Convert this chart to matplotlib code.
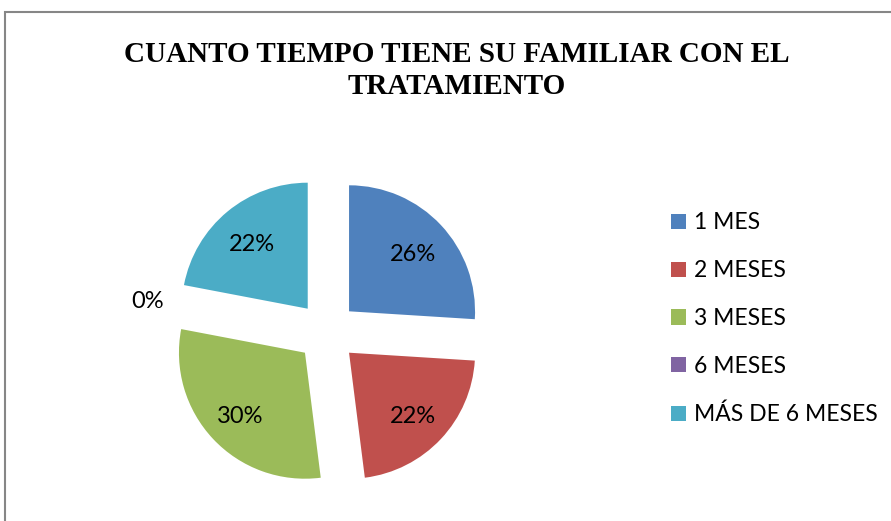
import matplotlib.pyplot as plt
from matplotlib.patches import Rectangle

categories = ["1 MES", "2 MESES", "3 MESES", "6 MESES", "MÁS DE 6 MESES"]
shares = [26, 22, 30, 0, 22]
colors = ["#4F81BD", "#C0504D", "#9BBB59", "#8064A2", "#4BACC6"]

W, H = 891, 521
fig = plt.figure(figsize=(W / 100, H / 100), dpi=100)

# outer chart frame (right and bottom edges fall outside the picture)
fig.patches.append(Rectangle((5 / W, -0.05), 1.1, (H - 12) / H + 0.05,
                             transform=fig.transFigure, fill=False,
                             edgecolor="#868686", linewidth=1.5))

# pie centre at ~(327, 332) px, radius ~126 px
r = 126
cx, cy = 327, 332
ax = fig.add_axes([(cx - 1.5 * r) / W, (H - cy - 1.5 * r) / H, 3 * r / W, 3 * r / H])
explode = [0.24, 0.24, 0.24, 0.75, 0.24]
wedges, texts, autotexts = ax.pie(
    shares, colors=colors, explode=explode, startangle=90, counterclock=False,
    autopct="%1.0f%%", pctdistance=0.7,
    textprops=dict(family="Lato", fontsize=17, color="black"))
ax.set_xlim(-1.5, 1.5)
ax.set_ylim(-1.5, 1.5)
ax.set_aspect("equal")
ax.axis("off")
for t in autotexts:
    x, y = t.get_position()
    t.set_position((x, y - 0.03))

fig.text(457 / W, 1 - 55 / H, "CUANTO TIEMPO TIENE SU FAMILIAR CON EL",
         ha="center", va="center", family="Liberation Serif", fontweight="bold",
         fontsize=21)
fig.text(457 / W, 1 - 87 / H, "TRATAMIENTO",
         ha="center", va="center", family="Liberation Serif", fontweight="bold",
         fontsize=21)

fig.legend(wedges, categories, loc="upper left",
           bbox_to_anchor=(660 / W, 1 - 201 / H), frameon=False,
           prop=dict(family="Lato", size=16.5),
           handlelength=0.65, handleheight=0.65, handletextpad=0.35,
           labelspacing=1.17, borderpad=0)

fig.savefig("out.png", dpi=100)
